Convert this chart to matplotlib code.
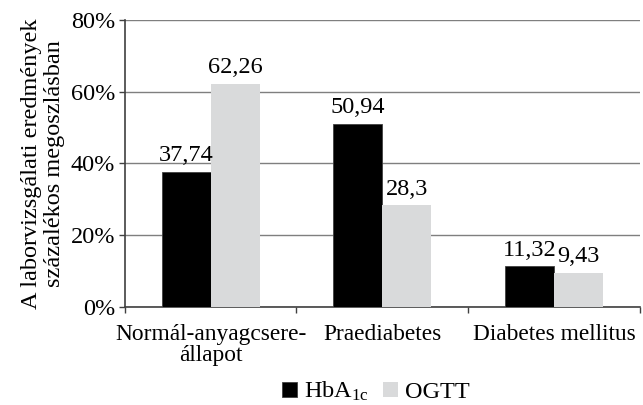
import numpy as np
import matplotlib
matplotlib.use("Agg")
import matplotlib.pyplot as plt

plt.rcParams['font.family'] = ['Liberation Serif', 'DejaVu Serif']
plt.rcParams['mathtext.fontset'] = 'custom'
plt.rcParams['mathtext.rm'] = 'Liberation Serif'
plt.rcParams['mathtext.it'] = 'Liberation Serif'

# --- DATA ---
categories = ["Normál-anyagcsere-\nállapot", "Praediabetes", "Diabetes mellitus"]
hba1c = [37.74, 50.94, 11.32]
ogtt = [62.26, 28.3, 9.43]
hba1c_labels = ["37,74", "50,94", "11,32"]
ogtt_labels = ["62,26", "28,3", "9,43"]
yticks = [0, 20, 40, 60, 80]

FS = 17.5

fig = plt.figure(figsize=(6.43, 4.05), dpi=100)
ax = fig.add_axes([0.194, 0.242, 0.801, 0.709])

x = np.arange(len(categories))
w = 0.285
b1 = ax.bar(x - w / 2, hba1c, w, color='black', edgecolor='#404040', linewidth=0.6,
            label='HbA$_{\\mathrm{1c}}$', zorder=3)
b2 = ax.bar(x + w / 2, ogtt, w, color='#d9dadb', label='OGTT', zorder=3)

for rect, lab in zip(b1, hba1c_labels):
    ax.text(rect.get_x() + rect.get_width() / 2, rect.get_height() + 1.6, lab,
            ha='center', va='bottom', fontsize=FS)
for rect, lab in zip(b2, ogtt_labels):
    ax.text(rect.get_x() + rect.get_width() / 2, rect.get_height() + 1.6, lab,
            ha='center', va='bottom', fontsize=FS)

ax.set_xlim(-0.5, len(categories) - 0.5)
ax.set_ylim(0, 80)
ax.set_yticks(yticks)
ax.set_yticklabels([f"{v}%" for v in yticks], fontsize=FS)
ax.yaxis.grid(True, color='#7f7f7f', linewidth=1.0, zorder=0)
ax.tick_params(axis='y', length=4, color='#404040', width=1, pad=3)

# category labels centred, tick marks at group boundaries
ax.set_xticks(x)
ax.set_xticklabels(categories, fontsize=16.8, linespacing=1.02)
ax.tick_params(axis='x', which='major', length=0, pad=12)
ax.set_xticks(np.arange(len(categories) + 1) - 0.5, minor=True)
ax.tick_params(axis='x', which='minor', length=4, color='#404040', width=1)

for s in ['top', 'right']:
    ax.spines[s].set_visible(False)
for s in ['left', 'bottom']:
    ax.spines[s].set_color('#404040')
    ax.spines[s].set_linewidth(1.2)

ax.set_ylabel("A laborvizsgálati eredmények\nszázalékos megoszlásban", fontsize=FS,
              linespacing=1.1, labelpad=4)

fig.legend(loc='lower center', bbox_to_anchor=(0.585, -0.05), ncol=2, frameon=False,
           fontsize=FS, handlelength=0.6, handleheight=0.6, handletextpad=0.3,
           columnspacing=0.6)

fig.savefig("out.png", dpi=100)
